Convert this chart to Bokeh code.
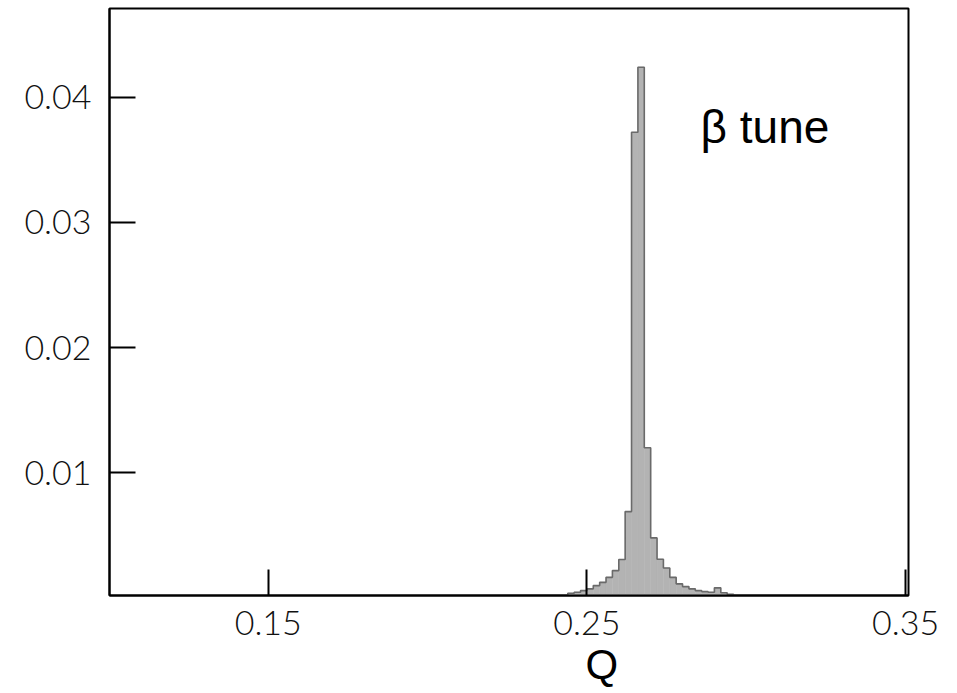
from bokeh.plotting import figure
from bokeh.models import Range1d, FixedTicker, Label, Title
from bokeh.embed import file_html
from bokeh.resources import INLINE

# Histogram of the beta tune Q (bin centres, bin width 0.002)
q_centers = [0.245, 0.247, 0.249, 0.251, 0.253, 0.255, 0.257, 0.259, 0.261, 0.263,
             0.265, 0.267, 0.269, 0.271, 0.273, 0.275, 0.277, 0.279, 0.281, 0.283,
             0.285, 0.287, 0.289, 0.291, 0.293, 0.295]
density = [0.00038, 0.00046, 0.00059, 0.00073, 0.00099, 0.00125, 0.00165, 0.00219, 0.00307, 0.0069,
           0.0372, 0.0424, 0.0120, 0.0048, 0.0031, 0.0024, 0.00165, 0.00113, 0.00091, 0.00073,
           0.00059, 0.00051, 0.00046, 0.00081, 0.00042, 0.00030]
bin_width = 0.002

x_ticks = [0.15, 0.25, 0.35]
x_tick_labels = ["0.15", "0.25", "0.35"]
y_ticks = [0.01, 0.02, 0.03, 0.04]
y_tick_labels = ["0.01", "0.02", "0.03", "0.04"]

p = figure(width=957, height=693, output_backend="svg", toolbar_location=None,
           x_range=Range1d(0.1002, 0.3509), y_range=Range1d(0.0002, 0.04709),
           min_border_left=109, min_border_right=49, min_border_top=8, min_border_bottom=98)
p.background_fill_color = "white"
p.border_fill_color = "white"
p.xgrid.visible = False
p.ygrid.visible = False
p.outline_line_color = "black"
p.outline_line_width = 2

# bars (fill only) + step outline
p.vbar(x=q_centers, width=bin_width, top=density, bottom=0,
       fill_color="#b3b3b3", line_color="#b3b3b3", line_width=0.5)
xs = [q_centers[0] - bin_width] + q_centers + [q_centers[-1] + bin_width]
ys = [0] + density + [0]
p.step(xs, ys, mode="center", line_color="#6a6a6a", line_width=1.6)

for ax, ticks, labels in ((p.xaxis[0], x_ticks, x_tick_labels), (p.yaxis[0], y_ticks, y_tick_labels)):
    ax.ticker = FixedTicker(ticks=ticks, minor_ticks=[])
    ax.major_label_overrides = {t: l for t, l in zip(ticks, labels)}
    ax.axis_line_color = "black"
    ax.axis_line_width = 2
    ax.major_tick_line_color = "black"
    ax.major_tick_line_width = 2
    ax.major_tick_in = 26
    ax.major_tick_out = 0
    ax.minor_tick_line_color = None
    ax.major_label_text_font = "'Lato Light', Lato"
    ax.major_label_text_font_size = "34px"
    ax.major_label_text_color = "#111111"

p.xaxis[0].major_label_standoff = 15
p.yaxis[0].major_label_standoff = 18

p.add_layout(Title(text="Q", align="left", offset=476, standoff=2,
                   text_font="Liberation Sans", text_font_size="42px",
                   text_font_style="normal", text_color="black"), "below")
p.add_layout(Label(x=0.28565, y=0.0376, text="β tune", text_align="left",
                   text_baseline="alphabetic", text_font="Liberation Sans",
                   text_font_size="46px", text_color="black"))

open("out.html", "w").write(file_html(p, INLINE))
